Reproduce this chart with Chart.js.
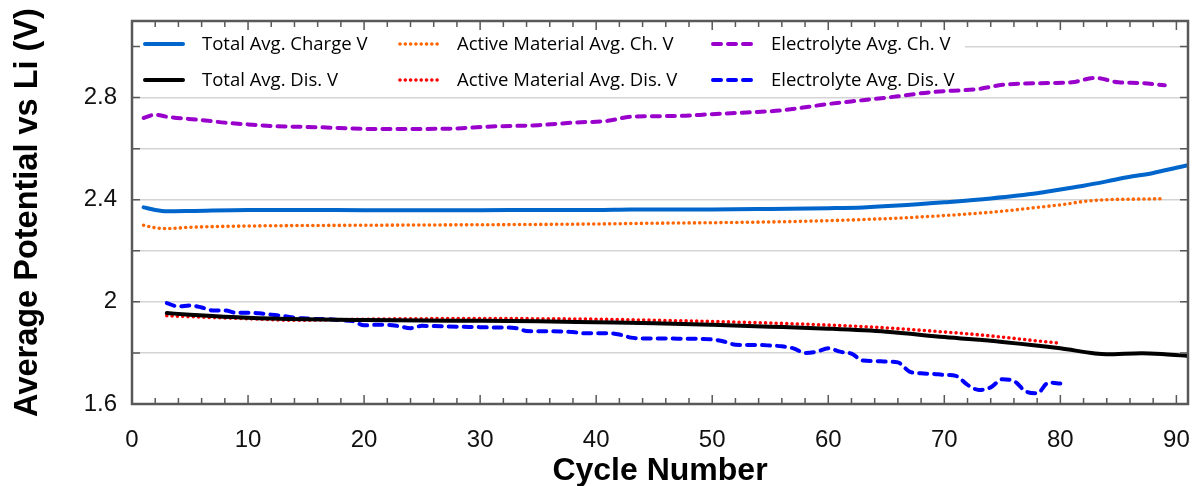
<!DOCTYPE html>
<html>
<head>
<meta charset="utf-8">
<script src="https://cdn.jsdelivr.net/npm/chart.js@4.4.0/dist/chart.umd.min.js"></script>
<style>
body{margin:0;background:#fff;}
#wrap{width:1194px;height:486px;position:relative;}
</style>
</head>
<body>
<div id="wrap"><canvas id="potChart"></canvas></div>
<script>
// values, per series (cycle number -> volts)
var chargeCycles = [1,2,3,5,10,15,20,25,30,35,40,43,50,55,60,63,66,70,74,78,80,82,84,86,87,88,90,91];
var chargeV = [2.37,2.36,2.355,2.356,2.36,2.36,2.359,2.359,2.359,2.36,2.36,2.362,2.362,2.364,2.367,2.37,2.377,2.39,2.405,2.425,2.44,2.455,2.472,2.49,2.497,2.505,2.525,2.535];

var amChCycles = [1,2,3,5,10,20,30,40,45,50,55,60,65,70,75,78,80,82,84,86,89];
var amChV = [2.30,2.29,2.287,2.292,2.297,2.30,2.302,2.305,2.308,2.31,2.313,2.318,2.326,2.338,2.355,2.37,2.38,2.393,2.40,2.402,2.404];

var elChCycles = [1,2,3,6,8,10,12,16,21,27,31,35,38,41,43,47,50,53,56,60,63,66,69,73,75,79,81,83,85,87,89];
var elChV = [2.72,2.733,2.725,2.712,2.702,2.695,2.689,2.684,2.677,2.678,2.687,2.692,2.702,2.709,2.725,2.728,2.735,2.742,2.75,2.775,2.79,2.805,2.822,2.834,2.85,2.857,2.86,2.877,2.86,2.857,2.848];

var disCycles = [3,5,10,15,20,25,30,35,40,45,50,55,60,65,70,75,80,83,84,87,89,91];
var disV = [1.956,1.95,1.938,1.932,1.929,1.927,1.926,1.924,1.92,1.916,1.91,1.903,1.895,1.883,1.862,1.843,1.818,1.798,1.795,1.799,1.795,1.788];

var amDisCycles = [3,5,10,14,20,25,30,35,40,45,50,55,60,65,70,72,75,78,80];
var amDisV = [1.946,1.942,1.934,1.928,1.932,1.934,1.935,1.934,1.932,1.928,1.923,1.917,1.909,1.898,1.882,1.875,1.862,1.847,1.838];

var elDisCycles = [3,4,5,6,7,8,9,10,11,12,13,14,15,16,17,18,19,20,21,22,23,24,25,26,27,28,29,30,31,32,33,34,35,36,37,38,39,40,41,42,43,44,45,46,47,48,49,50,51,52,53,54,55,56,57,58,59,60,61,62,63,64,65,66,67,68,69,70,71,72,73,74,75,76,77,78,79,80];
var elDisV = [1.995,1.982,1.986,1.978,1.966,1.966,1.957,1.957,1.955,1.95,1.945,1.938,1.935,1.933,1.932,1.928,1.925,1.908,1.91,1.91,1.905,1.897,1.906,1.905,1.904,1.903,1.902,1.901,1.9,1.9,1.898,1.886,1.885,1.885,1.884,1.882,1.877,1.877,1.877,1.872,1.86,1.857,1.857,1.857,1.856,1.856,1.855,1.853,1.845,1.832,1.831,1.831,1.829,1.826,1.818,1.8,1.805,1.818,1.805,1.797,1.77,1.768,1.766,1.763,1.727,1.72,1.718,1.714,1.71,1.675,1.655,1.665,1.697,1.69,1.65,1.642,1.684,1.68];

var seriesNames = ['Total Avg. Charge V','Active Material Avg. Ch. V','Electrolyte Avg. Ch. V',
                   'Total Avg. Dis. V','Active Material Avg. Dis. V','Electrolyte Avg. Dis. V'];
var xTickLabels = [0,10,20,30,40,50,60,70,80,90];
var yLabelled = [1.6,2.0,2.4,2.8];

function pts(xs, ys) {
  return xs.map((c, i) => ({x: c, y: ys[i]}));
}

var solid = [];
var dotted = [0, 5.3];
var dashed = [8, 7];

function mkSet(i, xs, ys, color, dash, w) {
  return {
    label: seriesNames[i],
    data: pts(xs, ys),
    borderColor: color,
    backgroundColor: color,
    borderWidth: w,
    borderDash: dash,
    borderCapStyle: 'round',
    pointRadius: 0,
    cubicInterpolationMode: 'monotone',
    fill: false
  };
}

var datasets = [
  mkSet(0, chargeCycles, chargeV, '#0066CC', solid, 4),
  mkSet(1, amChCycles, amChV, '#FF6600', dotted, 3.6),
  mkSet(2, elChCycles, elChV, '#9900CC', dashed, 4),
  mkSet(3, disCycles, disV, '#000000', solid, 4),
  mkSet(4, amDisCycles, amDisV, '#FF0000', dotted, 3.6),
  mkSet(5, elDisCycles, elDisV, '#0000FF', dashed, 4)
];

///////////////// legend drawn inside the plot, 3 columns x 2 rows
var legendPlugin = {
  id: 'insideLegend',
  beforeDatasetsDraw(chart) {
    const ctx = chart.ctx;
    const a = chart.chartArea;
    const symX = [145, 400, 713];
    const txtX = [202, 457, 771];
    const rowY = [44, 80];
    ctx.save();
    ctx.fillStyle = '#ffffff';
    ctx.fillRect(a.left + 1, a.top + 1, 832, 73);
    ctx.font = '18.5px "Open Sans"';
    ctx.textBaseline = 'middle';
    ctx.fillStyle = '#000';
    chart.data.datasets.forEach((ds, i) => {
      const col = i % 3, row = Math.floor(i / 3);
      ctx.save();
      ctx.strokeStyle = ds.borderColor;
      ctx.lineWidth = ds.borderWidth;
      ctx.lineCap = 'round';
      ctx.setLineDash(ds.borderDash);
      ctx.beginPath();
      ctx.moveTo(symX[col], rowY[row]);
      ctx.lineTo(symX[col] + 38, rowY[row]);
      ctx.stroke();
      ctx.restore();
      ctx.fillText(ds.label, txtX[col], rowY[row] + 1);
    });
    ctx.restore();
  }
};

///////////////// frame with inward tick marks on all four sides
var framePlugin = {
  id: 'frameTicks',
  afterDatasetsDraw(chart) {
    const ctx = chart.ctx;
    const a = chart.chartArea;
    const x = chart.scales.x, y = chart.scales.y;
    ctx.save();
    ctx.strokeStyle = '#595959';
    ctx.lineWidth = 1.5;
    ctx.beginPath();
    for (let v = 0; v <= 90; v += 2) {
      const px = x.getPixelForValue(v);
      const len = v % 10 === 0 ? 9 : 6;
      ctx.moveTo(px, a.bottom); ctx.lineTo(px, a.bottom - len);
      ctx.moveTo(px, a.top); ctx.lineTo(px, a.top + len);
    }
    y.ticks.forEach(t => {
      const py = y.getPixelForValue(t.value);
      ctx.moveTo(a.left, py); ctx.lineTo(a.left + 8, py);
      ctx.moveTo(a.right, py); ctx.lineTo(a.right - 8, py);
    });
    ctx.stroke();
    ctx.lineWidth = 2.5;
    ctx.strokeRect(a.left, a.top, a.right - a.left, a.bottom - a.top);
    ctx.restore();
  }
};

const potChart = new Chart(document.getElementById('potChart').getContext('2d'), {
  type: 'line',
  data: { datasets },
  options: {
    responsive: true,
    maintainAspectRatio: false,
    animation: false,
    layout: { padding: { top: 21, right: 6, left: 0, bottom: 0 } },
    plugins: { legend: { display: false }, tooltip: { enabled: false } },
    scales: {
      x: {
        type: 'linear',
        min: 0,
        max: 91,
        afterBuildTicks: s => { s.ticks = xTickLabels.map(v => ({value: v})); },
        afterFit: s => { s.height = 82; s.paddingLeft = 0; s.paddingRight = 0; },
        grid: { display: false, drawTicks: false },
        border: { display: false },
        ticks: {
          padding: 22,
          color: '#111',
          font: { family: 'Liberation Sans', size: 24 },
          maxRotation: 0
        },
        title: {
          display: true,
          text: 'Cycle Number',
          color: '#000',
          font: { family: 'Liberation Sans', size: 32, weight: 'bold', lineHeight: 0.95 },
          padding: { top: 0, bottom: 0 }
        }
      },
      y: {
        min: 1.6,
        max: 3.1,
        afterBuildTicks: s => {
          const t = [];
          for (let k = 16; k <= 31; k++) t.push({value: k / 10});
          s.ticks = t;
        },
        afterFit: s => { s.width = 132; s.paddingTop = 0; s.paddingBottom = 0; },
        grid: { color: '#d4d4d4', lineWidth: 1.5, drawTicks: false },
        border: { display: false },
        ticks: {
          padding: 15,
          color: '#111',
          font: { family: 'Liberation Sans', size: 24 },
          callback: v => yLabelled.some(l => Math.abs(l - v) < 1e-6) ? String(Math.round(v * 10) / 10) : ''
        },
        title: {
          display: true,
          text: 'Average Potential vs Li (V)',
          color: '#000',
          font: { family: 'Liberation Sans', size: 32.5, weight: 'bold' },
          padding: { top: 9, bottom: 0 }
        }
      }
    }
  },
  plugins: [legendPlugin, framePlugin]
});
</script>
</body>
</html>
